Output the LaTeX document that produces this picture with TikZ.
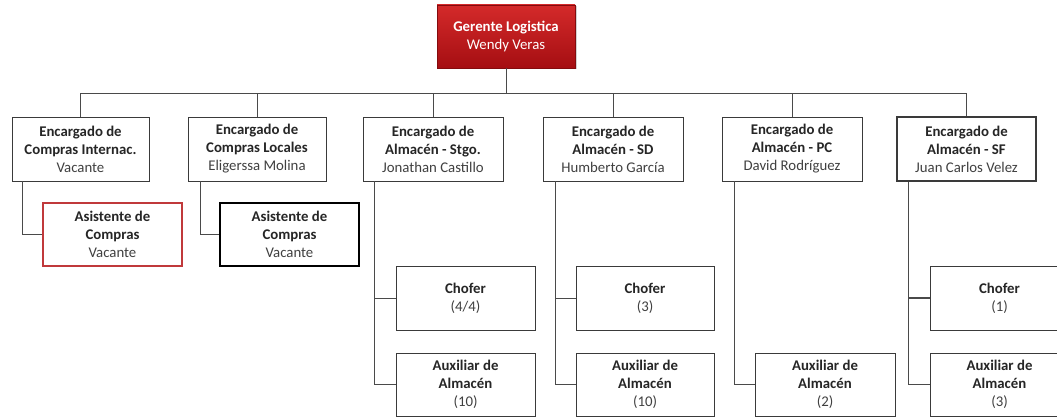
\documentclass[tikz,border=0pt]{standalone}
\usepackage{fontspec}
\setmainfont{Carlito}
\usetikzlibrary{calc,shadows}
\definecolor{lineg}{HTML}{4A4A4A}
\definecolor{boxb}{HTML}{3A3A3A}
\definecolor{txtb}{HTML}{262626}
\definecolor{txtr}{HTML}{404040}
\definecolor{redtop}{HTML}{D42A2A}
\definecolor{redbot}{HTML}{A50E12}
\definecolor{redline}{HTML}{C0393B}
\tikzset{
  orgbox/.style={draw=boxb, line width=0.9pt, fill=white, align=center, inner sep=0pt,
    font=\fontsize{14.8}{18}\selectfont, text=txtb},
  lvtwo/.style={orgbox, minimum width=139pt, minimum height=64pt},
  lvthree/.style={orgbox, minimum width=139pt, minimum height=63pt},
  conn/.style={draw=lineg, line width=0.9pt},
}
\newcommand{\nm}[1]{{\color{txtr}#1}}
\begin{document}
\begin{tikzpicture}[x=1pt,y=-1pt]
\clip (0,0) rectangle (1057,417);
\fill[white] (0,0) rectangle (1057,417);
% top
\node[draw=redbot!80!black, line width=0.6pt, top color=redtop, bottom color=redbot,
  minimum width=138pt, minimum height=63pt, align=center, text=white, inner sep=0pt,
  font=\fontsize{14.8}{18}\selectfont,
  drop shadow={shadow xshift=1.5pt, shadow yshift=-1.5pt, opacity=0.35}] (top) at (506,36.5)
  {\textbf{Gerente Logistica}\\Wendy Veras};
% level 2
\node[lvtwo, minimum width=137pt] (b1) at (80.5,149) {\textbf{Encargado de}\\\textbf{Compras Internac.}\\\nm{Vacante}};
\node[lvtwo, minimum width=138pt] (b2) at (257,149) {\textbf{Encargado de}\\\textbf{Compras Locales}\\\nm{Eligerssa Molina}};
\node[lvtwo, minimum width=140pt] (b3) at (433,149) {\textbf{Encargado de}\\\textbf{Almacén - Stgo.}\\\nm{Jonathan Castillo}};
\node[lvtwo, minimum width=140pt] (b4) at (613,149) {\textbf{Encargado de}\\\textbf{Almacén - SD}\\\nm{Humberto García}};
\node[lvtwo, minimum width=140pt] (b5) at (792,149) {\textbf{Encargado de}\\\textbf{Almacén - PC}\\\nm{David Rodríguez}};
\node[lvtwo, minimum width=139pt, line width=1.05pt] (b6) at (966.5,149) {\textbf{Encargado de}\\\textbf{Almacén - SF}\\\nm{Juan Carlos Velez}};
% level 3
\node[lvthree, draw=redline, line width=1.1pt] (a1) at (112.5,234.5) {\textbf{Asistente de}\\\textbf{Compras}\\\nm{Vacante}};
\node[lvthree, draw=black, line width=1.3pt] (a2) at (289.5,234.5) {\textbf{Asistente de}\\\textbf{Compras}\\\nm{Vacante}};
\node[lvthree, minimum height=64pt] (c3) at (465.5,298) {\textbf{Chofer}\\\nm{(4/4)}};
\node[lvthree] (x3) at (465.5,384.5) {\textbf{Auxiliar de}\\\textbf{Almacén}\\\nm{(10)}};
\node[lvthree, minimum width=138pt, minimum height=64pt] (c4) at (645,298) {\textbf{Chofer}\\\nm{(3)}};
\node[lvthree, minimum width=138pt] (x4) at (645,384.5) {\textbf{Auxiliar de}\\\textbf{Almacén}\\\nm{(10)}};
\node[lvthree, minimum width=140pt] (x5) at (825,384.5) {\textbf{Auxiliar de}\\\textbf{Almacén}\\\nm{(2)}};
\node[lvthree, minimum height=64pt] (c6) at (999.5,298) {\textbf{Chofer}\\\nm{(1)}};
\node[lvthree] (x6) at (999.5,384.5) {\textbf{Auxiliar de}\\\textbf{Almacén}\\\nm{(3)}};
% bus
\coordinate (bus) at (506,93);
\draw[conn] (top.south) -- (bus);
\draw[conn] (b1.north) -- (b1.north |- bus) -- (b6.north |- bus) -- (b6.north);
\foreach \b in {b2,b3,b4,b5} \draw[conn] (\b.north) -- (\b.north |- bus);
% elbows
\draw[conn] ($(b1.south west)+(11,0)$) |- (a1.west);
\draw[conn] ($(b2.south west)+(13,0)$) |- (a2.west);
\draw[conn] ($(b3.south west)+(12,0)$) |- (x3.west);
\draw[conn] ($(b3.south west)+(12,0)$) |- (c3.west);
\draw[conn] ($(b4.south west)+(13,0)$) |- (x4.west);
\draw[conn] ($(b4.south west)+(13,0)$) |- (c4.west);
\draw[conn] ($(b5.south west)+(13,0)$) |- (x5.west);
\draw[conn, line width=1.05pt] ($(b6.south west)+(12,0)$) |- (x6.west);
\draw[conn, line width=1.05pt] ($(b6.south west)+(12,0)$) |- (c6.west);
\end{tikzpicture}
\end{document}
